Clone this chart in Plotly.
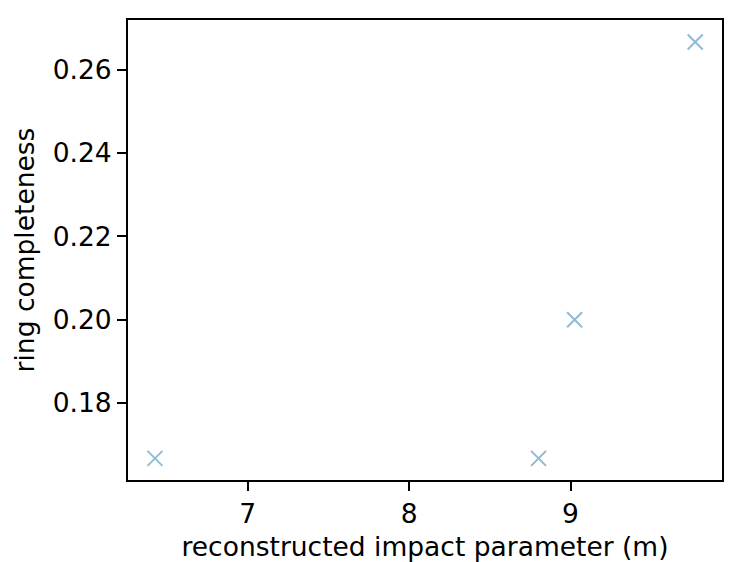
import plotly.graph_objects as go

# impact parameter (m) vs ring completeness
impact_parameter = [6.426, 8.802, 9.025, 9.772]
ring_completeness = [0.1667, 0.1667, 0.2000, 0.2667]

MARKER_COLOR = "rgba(31,119,180,0.5)"
FONT = "DejaVu Sans"
FONT_SIZE = 26.5

fig = go.Figure()
fig.add_trace(
    go.Scatter(
        x=impact_parameter,
        y=ring_completeness,
        mode="markers",
        showlegend=False,
        marker=dict(
            symbol="x-thin",
            size=15,
            color=MARKER_COLOR,
            line=dict(width=2, color=MARKER_COLOR),
        ),
    )
)

axis_style = dict(
    showline=True,
    linecolor="black",
    linewidth=2,
    mirror=True,
    ticks="outside",
    ticklen=9,
    tickwidth=2,
    tickcolor="black",
    showgrid=False,
    zeroline=False,
    tickfont=dict(family=FONT, size=FONT_SIZE, color="black"),
)

fig.update_layout(
    width=729,
    height=562,
    margin=dict(l=128, r=5, t=20, b=82),
    plot_bgcolor="white",
    paper_bgcolor="white",
    font=dict(family=FONT, size=FONT_SIZE, color="black"),
    xaxis=dict(
        axis_style,
        range=[6.259, 9.938],
        tickvals=[7, 8, 9],
        title=dict(text="reconstructed impact parameter (m)", standoff=10,
                   font=dict(family=FONT, size=FONT_SIZE)),
    ),
    yaxis=dict(
        axis_style,
        range=[0.1615, 0.272],
        tickvals=[0.18, 0.20, 0.22, 0.24, 0.26],
        tickformat=".2f",
        title=dict(text="ring completeness", standoff=10,
                   font=dict(family=FONT, size=FONT_SIZE)),
    ),
)

# drop the page's default body margin so the figure sits at (0, 0)
fig.write_html(
    "out.html",
    config={"displayModeBar": False},
    post_script="document.body.style.margin='0';",
)
